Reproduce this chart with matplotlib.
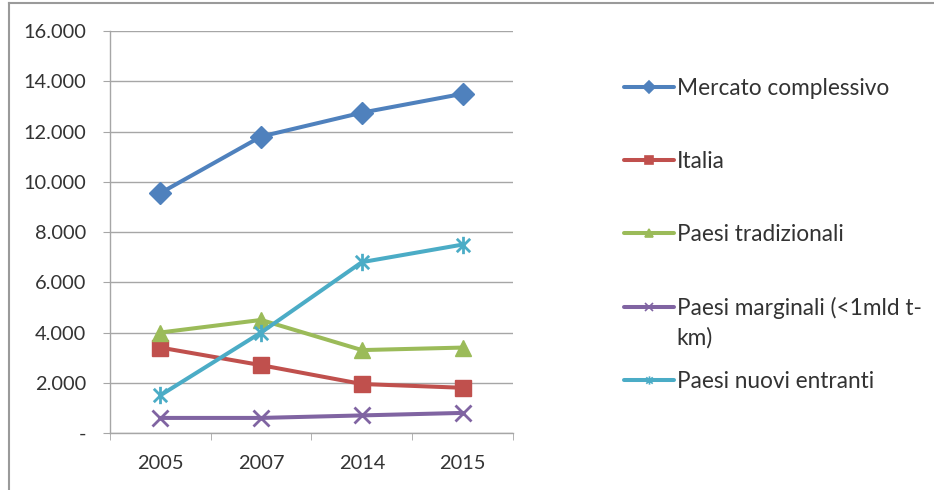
import numpy as np
import matplotlib
matplotlib.use("Agg")
import matplotlib.pyplot as plt
from matplotlib.ticker import FuncFormatter, FixedLocator
from matplotlib.path import Path
from matplotlib.lines import Line2D

plt.rcParams["font.family"] = ["Lato", "DejaVu Sans"]

# data
years = ["2005", "2007", "2014", "2015"]
mercato = [9550, 11800, 12750, 13500]
italia = [3400, 2700, 1950, 1800]
tradizionali = [4000, 4500, 3300, 3400]
marginali = [600, 600, 700, 800]
nuovi = [1500, 4000, 6800, 7500]

labels = ["Mercato complessivo", "Italia", "Paesi tradizionali",
          "Paesi marginali (<1mld t-", "Paesi nuovi entranti"]
label_wrap = "km)"  # second line of the wrapped legend label
colors = ["#4F81BD", "#C0504D", "#9BBB59", "#8064A2", "#4BACC6"]

# excel style asterisk marker
star = Path([(-1, -1), (1, 1), (-1, 1), (1, -1), (0, -1.3), (0, 1.3)],
            [Path.MOVETO, Path.LINETO, Path.MOVETO, Path.LINETO, Path.MOVETO, Path.LINETO])
markers = ["D", "s", "^", "x", star]
msizes = [11, 12, 12, 12, 12.5]

fig = plt.figure(figsize=(9.34, 4.90), dpi=100)
ax = fig.add_axes([110 / 934, 1 - 433 / 490, 403 / 934, 402 / 490])

x = np.arange(len(years))
series = [mercato, italia, tradizionali, marginali, nuovi]
lines = []
for vals, lab, c, m, ms in zip(series, labels, colors, markers, msizes):
    thin = m in ("x",) or m is star
    ln, = ax.plot(x, vals, color=c, lw=2.9, marker=m, markersize=ms,
                  markerfacecolor=c, markeredgecolor=c, markeredgewidth=2.0 if thin else 1,
                  label=lab, solid_capstyle="round", zorder=3)
    lines.append(ln)

ax.set_xlim(-0.5, 3.5)
ax.set_ylim(0, 16000)
ax.set_yticks(np.arange(0, 16001, 2000))
ax.yaxis.set_major_formatter(FuncFormatter(lambda v, pos: "-" if v == 0 else f"{int(v):,}".replace(",", ".")))
ax.set_xticks(x)
ax.set_xticklabels(years)
ax.xaxis.set_minor_locator(FixedLocator([-0.5, 0.5, 1.5, 2.5, 3.5]))

ax.grid(axis="y", color="#A6A6A6", lw=1)
ax.set_axisbelow(True)
for s in ["top", "right"]:
    ax.spines[s].set_visible(False)
for s in ["left", "bottom"]:
    ax.spines[s].set_color("#A6A6A6")
    ax.spines[s].set_linewidth(1)

ax.tick_params(axis="y", length=5, color="#A6A6A6", pad=12, labelsize=14.4, labelcolor="#333333")
ax.tick_params(axis="x", which="major", length=0, pad=16, labelsize=14.4, labelcolor="#333333")
ax.tick_params(axis="x", which="minor", length=5, color="#A6A6A6")

leg = ax.legend(handles=lines, loc="upper left", bbox_to_anchor=(613 / 934, 1 - 67 / 490),
                bbox_transform=fig.transFigure, frameon=False, fontsize=16.3,
                handlelength=2.2, handletextpad=0.12, labelspacing=2.29, borderpad=0,
                labelcolor="#333333")
for h in leg.legend_handles:
    h.set_markersize(6)
    h.set_markeredgewidth(1.2)

# wrapped second line of the "Paesi marginali" label
ax.annotate(label_wrap, xy=(0, 0.5), xycoords=leg.get_texts()[3], xytext=(0, -30),
            textcoords="offset pixels", va="center", ha="left", fontsize=16.3,
            color="#333333", zorder=10, annotation_clip=False)

# outer chart frame (only top and left edges visible)
fig.add_artist(Line2D([9 / 934, 9 / 934], [0, 1 - 3 / 490], transform=fig.transFigure, color="#9A9A9A", lw=1.5))
fig.add_artist(Line2D([9 / 934, 1], [1 - 3 / 490, 1 - 3 / 490], transform=fig.transFigure, color="#9A9A9A", lw=1.5))

fig.savefig("out.png", dpi=100)
